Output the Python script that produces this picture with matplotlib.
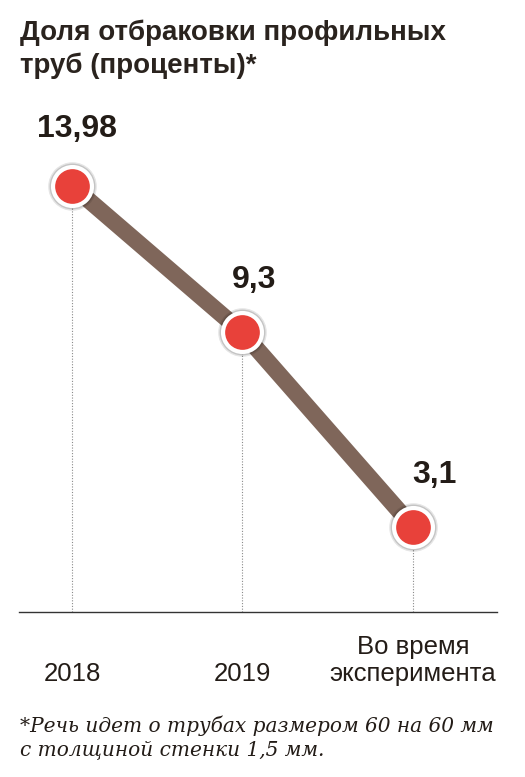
import matplotlib
matplotlib.use("Agg")
import matplotlib.pyplot as plt

title = "Доля отбраковки профильных\nтруб (проценты)*"
categories = ["2018", "2019", "Во время\nэксперимента"]
values = [13.98, 9.3, 3.1]
value_labels = ["13,98", "9,3", "3,1"]
footnote = "*Речь идет о трубах размером 60 на 60 мм\nс толщиной стенки 1,5 мм."

W, H = 525, 777
fig = plt.figure(figsize=(W / 100, H / 100), dpi=100)
fig.patch.set_facecolor("white")

ax_left, ax_right, ax_bottom_px, ax_top_px = 19, 497, 612, 100
ax = fig.add_axes([ax_left / W, 1 - ax_bottom_px / H,
                   (ax_right - ax_left) / W, (ax_bottom_px - ax_top_px) / H])
ax.set_facecolor("none")

x = list(range(len(categories)))
ax.set_xlim(-0.311, 2.493)
ax.set_ylim(0.38, 16.72)

# dotted guides
ax.vlines(x, 0.38, values, colors="#8a8a8a", linestyles=(0, (1, 1.5)), linewidth=0.8, zorder=1)

# line
ax.plot(x, values, color="#7f665a", linewidth=12, solid_capstyle="butt", zorder=2)

# shadow
ax.plot(x, values, linestyle="none", marker="o", markersize=35, markerfacecolor="#000000",
        markeredgecolor="none", alpha=0.10, zorder=3)
ax.plot(x, values, linestyle="none", marker="o", markersize=33, markerfacecolor="#000000",
        markeredgecolor="none", alpha=0.14, zorder=3)
# markers
ax.plot(x, values, linestyle="none", marker="o", markersize=28, markerfacecolor="#e8413a",
        markeredgecolor="white", markeredgewidth=3.0, zorder=4)

offsets = [(3.6, 35.3), (8.3, 31.7), (15.8, 31.7)]
for xi, v, lab, off in zip(x, values, value_labels, offsets):
    ax.annotate(lab, (xi, v), xytext=off, textcoords="offset points", ha="center", va="baseline",
                fontsize=23, fontweight="bold", family="Liberation Sans", color="#231c17", zorder=5)

for s in ["top", "right", "left"]:
    ax.spines[s].set_visible(False)
ax.spines["bottom"].set_color("#333333")
ax.spines["bottom"].set_linewidth(1.0)
ax.set_yticks([])
ax.set_xticks(x)
ax.set_xticklabels([])
ax.tick_params(axis="x", length=0)
for xi, cat in zip(x, categories):
    ax.annotate(cat, (xi, 0), xycoords=("data", "axes fraction"), xytext=(0, -53.5),
                textcoords="offset points", ha="center", va="bottom", multialignment="center",
                fontsize=18.5, family="Liberation Sans", color="#231c17", linespacing=1.2)

fig.text(20 / W, 1 - 73 / H, title, ha="left", va="baseline", fontsize=20, fontweight="bold",
         family="Liberation Sans", color="#2a231e", linespacing=1.3)
fig.text(20 / W, 1 - 755 / H, footnote, ha="left", va="baseline", fontsize=14.5, style="italic",
         family="DejaVu Serif", color="#231c17", linespacing=1.3)

fig.savefig("out.png", dpi=100, facecolor="white")
